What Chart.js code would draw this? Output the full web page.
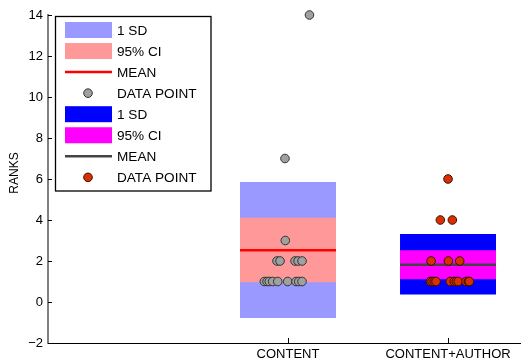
<!DOCTYPE html>
<html>
<head>
<meta charset="utf-8">
<script src="https://cdn.jsdelivr.net/npm/chart.js@4/dist/chart.umd.min.js"></script>
<style>
  html, body { margin: 0; padding: 0; background: #fff; }
  canvas { display: block; }
</style>
</head>
<body>
<canvas id="c" width="521" height="359"></canvas>
<script>
// Groups along the x axis (placed at x = 1, 2)
const categories = ['CONTENT', 'CONTENT+AUTHOR'];

// Summary statistics per group
const means  = [2.53, 1.82];
const sdLow  = [-0.78, 0.36];
const sdHigh = [5.85, 3.32];
const ciLow  = [0.96, 1.11];
const ciHigh = [4.11, 2.52];

// Individual ranks and their horizontal jitter (in category units)
const contentRanks  = [14, 7, 3, 2, 2, 2, 2, 2, 1, 1, 1, 1, 1, 1, 1, 1, 1];
const contentJitter = [0.134, -0.019, -0.017, -0.069, -0.05, 0.044, 0.063, 0.0875,
                       -0.148, -0.131, -0.117, -0.096, -0.064, -0.002, 0.05, 0.067, 0.0875];
const authorRanks   = [6, 4, 4, 2, 2, 2, 1, 1, 1, 1, 1, 1, 1, 1, 1, 1, 1];
const authorJitter  = [0, -0.048, 0.027, -0.106, 0.002, 0.073,
                       -0.11, -0.1, -0.086, -0.075, 0.014, 0.039, 0.052, 0.064, 0.1125, 0.127, 0.133];

// Y axis ticks
const yTicks = [-2, 0, 2, 4, 6, 8, 10, 12, 14];
const yTitle = 'RANKS';

const FONT = "'Liberation Sans', Arial, Helvetica, sans-serif";
const BOX_HALF = 0.3;

const styles = [
  { sd: '#9999FF', ci: '#FF9999', mean: '#FF0000', point: '#A0A0A0', pointEdge: '#333333' },
  { sd: '#0000FF', ci: '#FF00FF', mean: '#444444', point: '#D83000', pointEdge: '#3A1000' }
];

function band(i, lo, hi, color, order, label) {
  const x = i + 1;
  return {
    type: 'line', label, order,
    data: [{ x: x - BOX_HALF, y: hi }, { x: x + BOX_HALF, y: hi }],
    fill: { value: lo },
    backgroundColor: color,
    borderWidth: 0, borderColor: 'rgba(0,0,0,0)',
    pointRadius: 0, tension: 0
  };
}

function meanLine(i) {
  const x = i + 1;
  return {
    type: 'line', label: 'MEAN', order: 1,
    data: [{ x: x - BOX_HALF, y: means[i] }, { x: x + BOX_HALF, y: means[i] }],
    borderColor: styles[i].mean, borderWidth: 2.5,
    pointRadius: 0, fill: false, borderCapStyle: 'butt'
  };
}

function points(i, ranks, jitter) {
  const x = i + 1;
  return {
    type: 'scatter', label: 'DATA POINT', order: 0, clip: false,
    data: ranks.map((r, k) => ({ x: x + jitter[k], y: r })),
    backgroundColor: styles[i].point, borderColor: styles[i].pointEdge,
    borderWidth: 1, pointRadius: 4.3
  };
}

const datasets = [
  band(0, sdLow[0], sdHigh[0], styles[0].sd, 3, '1 SD'),
  band(0, ciLow[0], ciHigh[0], styles[0].ci, 2, '95% CI'),
  meanLine(0),
  points(0, contentRanks, contentJitter),
  band(1, sdLow[1], sdHigh[1], styles[1].sd, 3, '1 SD'),
  band(1, ciLow[1], ciHigh[1], styles[1].ci, 2, '95% CI'),
  meanLine(1),
  points(1, authorRanks, authorJitter)
];

// Inward tick marks on both axes, plus the rotated y-axis title
const axisDecor = {
  id: 'axisDecor',
  afterDraw(chart) {
    const { ctx, chartArea, scales } = chart;
    ctx.save();
    ctx.strokeStyle = '#000';
    ctx.lineWidth = 1;
    ctx.beginPath();
    yTicks.forEach(v => {
      const y = Math.round(scales.y.getPixelForValue(v)) + 0.5;
      ctx.moveTo(chartArea.left, y);
      ctx.lineTo(chartArea.left + 4, y);
    });
    categories.forEach((c, i) => {
      const x = Math.round(scales.x.getPixelForValue(i + 1)) + 0.5;
      ctx.moveTo(x, chartArea.bottom);
      ctx.lineTo(x, chartArea.bottom - 5);
    });
    ctx.stroke();

    ctx.translate(15, 173);
    ctx.rotate(-Math.PI / 2);
    ctx.fillStyle = '#000';
    ctx.font = '12px ' + FONT;
    ctx.textAlign = 'center';
    ctx.textBaseline = 'middle';
    ctx.fillText(yTitle, 0, 0);
    ctx.restore();
  }
};

// Boxed key in the upper-left corner of the plot
const keyBox = {
  id: 'keyBox',
  afterDraw(chart) {
    const { ctx } = chart;
    const left = 55.5, top = 16.5, w = 155.5, h = 174.5;
    const rows = [
      { kind: 'patch', color: styles[0].sd, text: '1 SD' },
      { kind: 'patch', color: styles[0].ci, text: '95% CI' },
      { kind: 'line', color: styles[0].mean, text: 'MEAN' },
      { kind: 'dot', color: styles[0].point, edge: styles[0].pointEdge, text: 'DATA POINT' },
      { kind: 'patch', color: styles[1].sd, text: '1 SD' },
      { kind: 'patch', color: styles[1].ci, text: '95% CI' },
      { kind: 'line', color: styles[1].mean, text: 'MEAN' },
      { kind: 'dot', color: styles[1].point, edge: styles[1].pointEdge, text: 'DATA POINT' }
    ];
    ctx.save();
    ctx.fillStyle = '#fff';
    ctx.fillRect(left, top, w, h);
    ctx.strokeStyle = '#000';
    ctx.lineWidth = 1.3;
    ctx.strokeRect(left, top, w, h);
    ctx.font = '13.6px ' + FONT;
    ctx.textBaseline = 'middle';
    ctx.textAlign = 'left';
    rows.forEach((r, i) => {
      const cy = 30 + i * 21.05;
      if (r.kind === 'patch') {
        ctx.fillStyle = r.color;
        ctx.fillRect(65, cy - 8, 47, 16);
      } else if (r.kind === 'line') {
        ctx.strokeStyle = r.color;
        ctx.lineWidth = 2.5;
        ctx.beginPath();
        ctx.moveTo(65, cy);
        ctx.lineTo(112, cy);
        ctx.stroke();
      } else {
        ctx.fillStyle = r.color;
        ctx.strokeStyle = r.edge;
        ctx.lineWidth = 1;
        ctx.beginPath();
        ctx.arc(88, cy, 4.3, 0, Math.PI * 2);
        ctx.fill();
        ctx.stroke();
      }
      ctx.fillStyle = '#000';
      ctx.fillText(r.text, 117, cy + 1);
    });
    ctx.restore();
  }
};

new Chart(document.getElementById('c'), {
  type: 'scatter',
  data: { datasets },
  options: {
    responsive: false,
    animation: false,
    layout: { autoPadding: false, padding: { top: 15, right: 0, bottom: 0, left: 0 } },
    plugins: { legend: { display: false }, tooltip: { enabled: false } },
    scales: {
      x: {
        type: 'linear', min: -0.5, max: 2.456,
        grid: { display: false, drawTicks: false },
        border: { display: true, color: '#000', width: 1 },
        afterBuildTicks: s => { s.ticks = categories.map((c, i) => ({ value: i + 1 })); },
        ticks: {
          callback: v => categories[v - 1],
          padding: 4, color: '#000', maxRotation: 0, autoSkip: false,
          font: { family: FONT, size: 13 }
        },
        afterFit: s => { s.height = 16; s.paddingLeft = 0; s.paddingRight = 0; }
      },
      y: {
        type: 'linear', min: -2, max: 14,
        grid: { display: false, drawTicks: false },
        border: { display: true, color: '#808080', width: 2 },
        afterBuildTicks: s => { s.ticks = yTicks.map(v => ({ value: v })); },
        ticks: {
          callback: v => (v < 0 ? '\u2212' + Math.abs(v) : String(v)),
          padding: 5, color: '#000',
          font: { family: FONT, size: 13 }
        },
        afterFit: s => { s.width = 48; s.paddingTop = 0; s.paddingBottom = 0; }
      }
    }
  },
  plugins: [axisDecor, keyBox]
});
</script>
</body>
</html>
